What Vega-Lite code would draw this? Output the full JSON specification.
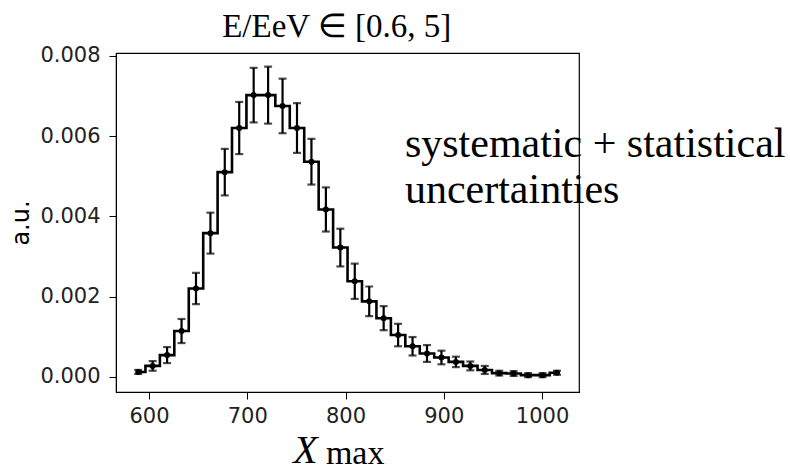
{
  "$schema": "https://vega.github.io/schema/vega-lite/v6.json",
  "autosize": {"type": "none"},
  "width": 463,
  "height": 339,
  "padding": {"left": 116, "top": 53, "right": 211, "bottom": 79},
  "background": "white",
  "config": {
    "view": {"stroke": "black", "strokeWidth": 1.2},
    "axis": {
      "grid": false,
      "domainColor": "black",
      "tickColor": "black",
      "tickSize": 7,
      "labelFont": "DejaVu Sans",
      "labelFontSize": 21,
      "labelColor": "#222",
      "titleColor": "black"
    }
  },
  "datasets": {
    "hist": [
      {"xmax": 589.0, "val": 0.00012, "err": 0.00005},
      {"xmax": 603.7, "val": 0.00027, "err": 0.00012},
      {"xmax": 618.4, "val": 0.00054, "err": 0.0002},
      {"xmax": 633.1, "val": 0.00114, "err": 0.0003},
      {"xmax": 647.8, "val": 0.0022, "err": 0.00039},
      {"xmax": 662.5, "val": 0.00358, "err": 0.00051},
      {"xmax": 677.1, "val": 0.0051, "err": 0.00058},
      {"xmax": 691.8, "val": 0.0062, "err": 0.00065},
      {"xmax": 706.5, "val": 0.00702, "err": 0.00068},
      {"xmax": 721.2, "val": 0.00702, "err": 0.00071},
      {"xmax": 735.9, "val": 0.00675, "err": 0.00068},
      {"xmax": 750.6, "val": 0.0062, "err": 0.00062},
      {"xmax": 765.3, "val": 0.00536, "err": 0.00057},
      {"xmax": 780.0, "val": 0.00417, "err": 0.00055},
      {"xmax": 794.7, "val": 0.00322, "err": 0.00047},
      {"xmax": 809.4, "val": 0.00238, "err": 0.00044},
      {"xmax": 824.1, "val": 0.00188, "err": 0.00037},
      {"xmax": 838.8, "val": 0.00146, "err": 0.0003},
      {"xmax": 853.5, "val": 0.00104, "err": 0.00028},
      {"xmax": 868.2, "val": 0.00076, "err": 0.00023},
      {"xmax": 882.9, "val": 0.00058, "err": 0.00021},
      {"xmax": 897.6, "val": 0.00048, "err": 0.00017},
      {"xmax": 912.3, "val": 0.00037, "err": 0.00013},
      {"xmax": 927.0, "val": 0.00027, "err": 0.00011},
      {"xmax": 941.7, "val": 0.00017, "err": 0.0001},
      {"xmax": 956.4, "val": 0.00009, "err": 0.00006},
      {"xmax": 971.1, "val": 0.00008, "err": 0.00006},
      {"xmax": 985.8, "val": 0.00004, "err": 0.00005},
      {"xmax": 1000.5, "val": 0.00004, "err": 0.00005},
      {"xmax": 1015.2, "val": 0.0001, "err": 0.00005}
    ],
    "notes": [
      {"txt": "E/EeV ∈ [0.6, 5]", "nx": 791, "ny": 0.00847}
    ],
    "ann": [
      {"txt": "systematic + statistical", "nx": 860.4, "ny": 0.00548},
      {"txt": "uncertainties", "nx": 860.4, "ny": 0.00432}
    ],
    "sub": [
      {"txt": "max", "nx": 780, "ny": -0.00218}
    ]
  },
  "layer": [
    {
      "data": {"name": "hist"},
      "mark": {"type": "line", "interpolate": "step", "color": "black", "strokeWidth": 2.6},
      "encoding": {
        "x": {
          "field": "xmax",
          "type": "quantitative",
          "title": "X",
          "scale": {"domain": [566.4, 1037.6], "nice": false, "zero": false},
          "axis": {
            "values": [600, 700, 800, 900, 1000],
            "format": "d",
            "labelPadding": 6,
            "titleFont": "Liberation Serif",
            "titleFontStyle": "italic",
            "titleFontWeight": "normal",
            "titleFontSize": 40,
            "titleAlign": "center",
            "titleBaseline": "alphabetic",
            "titleX": 189,
            "titleY": 70
          }
        },
        "y": {
          "field": "val",
          "type": "quantitative",
          "title": "a.u.",
          "scale": {"domain": [-0.00038, 0.00807], "nice": false, "zero": false},
          "axis": {
            "values": [0, 0.002, 0.004, 0.006, 0.008],
            "format": ".3f",
            "labelPadding": 9,
            "titleFont": "DejaVu Sans",
            "titleFontSize": 24,
            "titleFontWeight": "normal",
            "titlePadding": 6
          }
        }
      }
    },
    {
      "data": {"name": "hist"},
      "mark": {"type": "errorbar", "color": "black", "rule": {"strokeWidth": 2.2, "color": "black"}, "ticks": {"size": 8, "thickness": 2.2, "color": "black"}},
      "encoding": {
        "x": {"field": "xmax", "type": "quantitative", "title": "X"},
        "y": {"field": "val", "type": "quantitative", "title": "a.u."},
        "yError": {"field": "err"}
      }
    },
    {
      "data": {"name": "hist"},
      "mark": {"type": "point", "filled": true, "color": "black", "size": 36, "opacity": 1},
      "encoding": {
        "x": {"field": "xmax", "type": "quantitative", "title": "X"},
        "y": {"field": "val", "type": "quantitative", "title": "a.u."}
      }
    },
    {
      "data": {"name": "notes"},
      "mark": {"type": "text", "font": "Liberation Serif", "fontSize": 33, "align": "center", "baseline": "alphabetic", "color": "black"},
      "encoding": {
        "x": {"field": "nx", "type": "quantitative", "title": "X"},
        "y": {"field": "ny", "type": "quantitative", "title": "a.u."},
        "text": {"field": "txt"}
      }
    },
    {
      "data": {"name": "ann"},
      "mark": {"type": "text", "font": "Liberation Serif", "fontSize": 42, "align": "left", "baseline": "alphabetic", "color": "black"},
      "encoding": {
        "x": {"field": "nx", "type": "quantitative", "title": "X"},
        "y": {"field": "ny", "type": "quantitative", "title": "a.u."},
        "text": {"field": "txt"}
      }
    },
    {
      "data": {"name": "sub"},
      "mark": {"type": "text", "font": "Liberation Serif", "fontSize": 34, "align": "left", "baseline": "alphabetic", "color": "black"},
      "encoding": {
        "x": {"field": "nx", "type": "quantitative", "title": "X"},
        "y": {"field": "ny", "type": "quantitative", "title": "a.u."},
        "text": {"field": "txt"}
      }
    }
  ]
}
